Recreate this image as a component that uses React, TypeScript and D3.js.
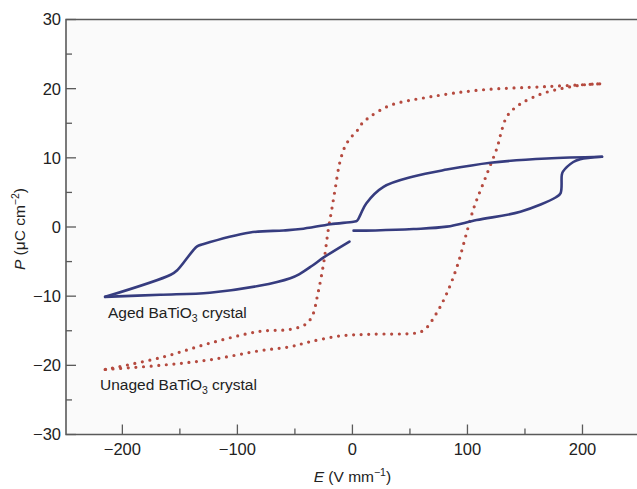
import React from 'react';
import * as d3 from 'd3';

// E (V/mm), P (uC/cm2)
const agedUpE = [-215, -158, -152, -135, -130, -89, -60, -45, -19, 1, 4, 7, 12, 27, 53, 82, 120, 169, 217];
const agedUpP = [-10.1, -6.9, -6.2, -2.8, -2.5, -0.8, -0.5, -0.3, 0.4, 0.77, 0.9, 1.8, 3.4, 5.8, 7.3, 8.3, 9.3, 9.9, 10.15];
const agedDownE = [217, 198, 192, 183, 182, 181, 177, 146, 108, 82, 53, 20, 1];
const agedDownP = [10.15, 9.8, 9.4, 8.0, 7.5, 4.9, 4.3, 2.2, 1.0, 0.05, -0.3, -0.5, -0.53];
const agedTailE = [-2.6, -25, -35, -46, -54, -81, -124, -167, -215];
const agedTailP = [-2.1, -4.4, -5.6, -6.8, -7.4, -8.5, -9.5, -9.8, -10.1];

const unagedUpE = [-215, -167, -124, -81, -54, -41, -35, -30, -25, -21, -18, -15, -11, -6, 0, 4, 8, 15, 33, 67, 111, 169, 215];
const unagedUpP = [-20.6, -18.9, -16.8, -15.1, -14.8, -14.1, -12.9, -9.6, -5.2, -0.4, 2.5, 5.5, 9.3, 11.8, 13.2, 13.9, 14.9, 15.9, 17.6, 18.8, 19.8, 20.3, 20.7];
const unagedDownE = [215, 198, 169, 155, 146, 139, 134, 130, 126, 117, 108, 105, 100, 91, 82, 73, 63, 56, 18, -11, -37, -54, -81, -124, -167, -215];
const unagedDownP = [20.7, 20.5, 19.5, 18.6, 17.8, 16.9, 15.9, 14.1, 11.6, 7.7, 3.9, 2.5, -0.4, -5.7, -9.6, -12.5, -14.8, -15.3, -15.5, -15.75, -16.6, -17.3, -17.9, -19.2, -20.0, -20.6];

const yMajor = [-30, -20, -10, 0, 10, 20, 30];
const yMinor = [-25, -15, -5, 5, 15, 25];
const xMajor = [-200, -100, 0, 100, 200];
const xMinor = [-150, -50, 50, 150];

const W = 637;
const H = 489;
const FONT = '"Liberation Sans", Arial, Helvetica, sans-serif';

const zip = (xs: number[], ys: number[]) => xs.map((x, i) => [x, ys[i]] as [number, number]);
const fmt = (v: number) => (v < 0 ? '\u2212' + Math.abs(v) : String(v));

export default function App() {
  const left = 66, right = 640, top = 19.5, bottom = 434.5;
  const x = d3.scaleLinear().domain([-249, 250]).range([left, right]);
  const y = d3.scaleLinear().domain([-30, 30]).range([bottom, top]);
  const line = d3.line<[number, number]>()
    .x(d => x(d[0]))
    .y(d => y(d[1]))
    .curve(d3.curveCatmullRom.alpha(0.5));

  const blue = '#363c7f';
  const red = '#b54a3f';
  const axisColor = '#5a5a5a';
  const ink = '#222';

  const aged = [zip(agedUpE, agedUpP), zip(agedDownE, agedDownP), zip(agedTailE, agedTailP)];
  const unaged = [zip(unagedUpE, unagedUpP), zip(unagedDownE, unagedDownP)];

  return (
    <svg width={W} height={H} style={{ position: 'absolute', left: 0, top: 0, background: '#fff' }}
      fontFamily={FONT}>
      <rect x={left} y={top} width={right - left} height={bottom - top} fill="#fafafa" />

      {unaged.map((d, i) => (
        <path key={'u' + i} d={line(d) || ''} fill="none" stroke={red} strokeWidth={3.2}
          strokeLinecap="round" strokeDasharray="0 7.6" />
      ))}
      {aged.map((d, i) => (
        <path key={'a' + i} d={line(d) || ''} fill="none" stroke={blue} strokeWidth={2.6}
          strokeLinecap="round" strokeLinejoin="round" />
      ))}

      {/* frame */}
      <path d={`M${right},${top}H${left}V${bottom}H${right}`} fill="none" stroke={axisColor} strokeWidth={1.6} />

      {yMajor.map(v => (
        <g key={'ym' + v}>
          <line x1={left} x2={left + 10} y1={y(v)} y2={y(v)} stroke={axisColor} strokeWidth={1.3} />
          <text x={61} y={y(v)} dy="0.36em" textAnchor="end" fontSize={16.5} fill={ink}>{fmt(v)}</text>
        </g>
      ))}
      {yMinor.map(v => (
        <line key={'yn' + v} x1={left} x2={left + 6} y1={y(v)} y2={y(v)} stroke={axisColor} strokeWidth={1.3} />
      ))}
      {xMajor.map(v => (
        <g key={'xm' + v}>
          <line x1={x(v)} x2={x(v)} y1={bottom} y2={bottom - 10} stroke={axisColor} strokeWidth={1.3} />
          <text x={x(v)} y={455} textAnchor="middle" fontSize={16.5} fill={ink}>{fmt(v)}</text>
        </g>
      ))}
      {xMinor.map(v => (
        <line key={'xn' + v} x1={x(v)} x2={x(v)} y1={bottom} y2={bottom - 6} stroke={axisColor} strokeWidth={1.3} />
      ))}

      <text x={x(0)} y={482} textAnchor="middle" fontSize={15.5} fill={ink}>
        <tspan fontStyle="italic">E</tspan> (V mm<tspan dy={-6} fontSize={10.5}>{'\u22121'}</tspan><tspan dy={6}>)</tspan>
      </text>
      <text transform={`translate(25,${y(0) + 2}) rotate(-90)`} textAnchor="middle" fontSize={15.5} fill={ink}>
        <tspan fontStyle="italic">P</tspan> ({'\u03bc'}C cm<tspan dy={-6} fontSize={10.5}>{'\u22122'}</tspan><tspan dy={6}>)</tspan>
      </text>

      <text x={108} y={318} fontSize={15.5} fill={ink}>
        Aged BaTiO<tspan dy={4} fontSize={10.5}>3</tspan><tspan dy={-4}> crystal</tspan>
      </text>
      <text x={100} y={390} fontSize={15.5} fill={ink}>
        Unaged BaTiO<tspan dy={4} fontSize={10.5}>3</tspan><tspan dy={-4}> crystal</tspan>
      </text>
    </svg>
  );
}
